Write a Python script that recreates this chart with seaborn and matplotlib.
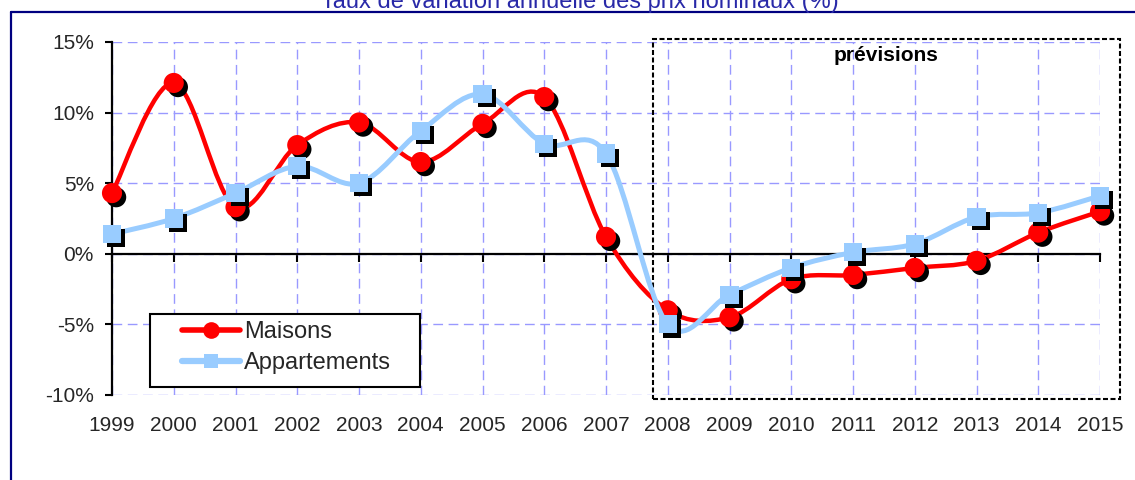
import numpy as np
import pandas as pd
import seaborn as sns
import matplotlib
matplotlib.use("Agg")
import matplotlib.pyplot as plt
import matplotlib.patheffects as pe
from matplotlib.path import Path
from matplotlib.patches import PathPatch, Rectangle
from matplotlib.lines import Line2D

# Annual change in nominal prices (%)
years = [1999, 2000, 2001, 2002, 2003, 2004, 2005, 2006, 2007,
         2008, 2009, 2010, 2011, 2012, 2013, 2014, 2015]
maisons = [4.3, 12.1, 3.3, 7.7, 9.3, 6.5, 9.2, 11.1, 1.2,
           -4.0, -4.5, -1.8, -1.5, -1.0, -0.5, 1.5, 3.0]
appartements = [1.4, 2.5, 4.3, 6.2, 5.0, 8.7, 11.3, 7.8, 7.1,
                -5.0, -2.9, -1.0, 0.1, 0.7, 2.6, 2.9, 4.1]
series_names = ["Maisons", "Appartements"]
y_ticks = [-10, -5, 0, 5, 10, 15]
title = "Taux de variation annuelle des prix nominaux (%)"
forecast_label = "prévisions"

RED = "#FF0000"
BLUE = "#99CCFF"
GRID = "#9999FF"
NAVY = "#000080"

sns.set_style("white")
plt.rcParams["font.family"] = ["Liberation Sans", "DejaVu Sans"]

df = pd.DataFrame({"annee": years * 2,
                   "taux": maisons + appartements,
                   "type": [series_names[0]] * len(years) + [series_names[1]] * len(years)})


def smooth_path(x, y):
    """Cubic Bezier path through the points (Catmull-Rom style smoothing)."""
    x = np.asarray(x, float)
    y = np.asarray(y, float)
    n = len(x)
    verts = [(x[0], y[0])]
    codes = [Path.MOVETO]
    for i in range(n - 1):
        a = i - 1 if i > 0 else i
        d = i + 2 if i + 2 < n else i + 1
        c1 = (x[i] + (x[i + 1] - x[a]) / 6.0, y[i] + (y[i + 1] - y[a]) / 6.0)
        c2 = (x[i + 1] - (x[d] - x[i]) / 6.0, y[i + 1] - (y[d] - y[i]) / 6.0)
        verts += [c1, c2, (x[i + 1], y[i + 1])]
        codes += [Path.CURVE4] * 3
    return Path(verts, codes)


fig = plt.figure(figsize=(11.35, 4.8), dpi=100)
ax = fig.add_axes([112 / 1135, 1 - 395 / 480, 988 / 1135, 353 / 480])

ax.set_xlim(years[0], years[-1])
ax.set_ylim(-10, 15)
ax.set_xticks(years)
ax.set_yticks(y_ticks)
ax.set_yticklabels([f"{v}%" for v in y_ticks])
ax.grid(True, color=GRID, linestyle=(0, (7, 4)), linewidth=1.0, zorder=0)
ax.set_axisbelow(True)

for side in ("top", "right"):
    ax.spines[side].set_visible(False)
ax.spines["left"].set_linewidth(1.6)
ax.spines["left"].set_color("black")
ax.spines["bottom"].set_position(("data", 0))
ax.spines["bottom"].set_linewidth(1.6)
ax.spines["bottom"].set_color("black")
ax.spines["bottom"].set_zorder(2)

ax.tick_params(axis="x", direction="out", length=6, width=1.5, color="black",
               labelsize=15, pad=111, bottom=True)
ax.tick_params(axis="y", direction="out", length=5, width=1.5, color="black",
               labelsize=15, pad=8, left=True)

# Forecast frame
ax.add_patch(Rectangle((2007.756, -10.26), 7.574, 25.45, fill=False,
                       edgecolor="black", linewidth=1.5, linestyle=(0, (2.4, 1.2)),
                       clip_on=False, zorder=1.5))
ax.text(2011.53, 13.66, forecast_label, ha="center", va="baseline",
        fontsize=15, fontweight="bold", color="black", zorder=5)

shadow = [pe.SimplePatchShadow(offset=(3, -3), shadow_rgbFace="black", alpha=1.0),
          pe.Normal()]

styles = {
    series_names[0]: dict(color=RED, lw=3.2, marker="o", s=210),
    series_names[1]: dict(color=BLUE, lw=3.6, marker="s", s=170),
}

z = 3
for name in series_names:
    sub = df[df["type"] == name]
    st = styles[name]
    ax.add_patch(PathPatch(smooth_path(sub["annee"], sub["taux"]), fill=False,
                           edgecolor=st["color"], linewidth=st["lw"],
                           capstyle="round", joinstyle="round",
                           clip_on=False, zorder=z))
    sns.scatterplot(data=sub, x="annee", y="taux", ax=ax, marker=st["marker"],
                    s=st["s"], color=st["color"], edgecolor="none",
                    linewidth=0, legend=False, clip_on=False, zorder=z + 1)
    ax.collections[-1].set_path_effects(shadow)
    z += 2

ax.set_xlabel("")
ax.set_ylabel("")

# Legend with a plain white box
ax.add_patch(Rectangle((0.0385, 0.0227), 0.2733, 0.2068, transform=ax.transAxes,
                       facecolor="white", edgecolor="black", linewidth=1.5,
                       clip_on=False, zorder=8))
handles = [Line2D([], [], color=RED, lw=4, marker="o", markersize=12,
                  markeredgewidth=0),
           Line2D([], [], color=BLUE, lw=4.5, marker="s", markersize=10,
                  markeredgewidth=0)]
leg = ax.legend(handles, series_names, loc="center left",
                bbox_to_anchor=(0.0709, 0.1334), frameon=False, fontsize=17,
                handlelength=2.46, handletextpad=0.17, borderpad=0,
                borderaxespad=0, labelspacing=0.38)
leg.set_zorder(9)

# Outer frame and title
fig.add_artist(Line2D([11 / 1135, 1.0], [1 - 12 / 480, 1 - 12 / 480],
                      transform=fig.transFigure, color=NAVY, linewidth=1.6))
fig.add_artist(Line2D([11 / 1135, 11 / 1135], [0.0, 1 - 12 / 480],
                      transform=fig.transFigure, color=NAVY, linewidth=1.6))
fig.text(580 / 1135, 1 - 8 / 480, title, ha="center", va="baseline",
         fontsize=17, color="#2929A8")

fig.savefig("out.png", dpi=100)
